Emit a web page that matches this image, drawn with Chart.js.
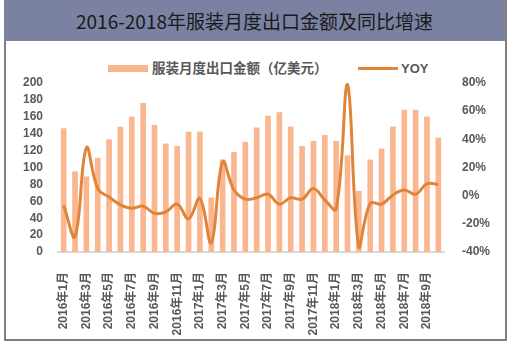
<!DOCTYPE html>
<html>
<head>
<meta charset="utf-8">
<script src="https://cdn.jsdelivr.net/npm/chart.js@4/dist/chart.umd.min.js"></script>
<style>
  html, body { margin: 0; padding: 0; background: #fff; }
  body { width: 508px; height: 344px; position: relative; overflow: hidden; font-family: "Liberation Sans", "Noto Sans CJK SC", sans-serif; }
  #frame { position: absolute; left: 4px; top: 0; width: 499px; height: 339px; border: 2px solid #808080; border-top: none; }
  #title { position: absolute; left: 4px; top: 0; width: 501px; height: 41px; background: #7b81a1; color: #1a1a1a;
           font: 19px "Noto Sans CJK SC", sans-serif; text-align: center; line-height: 41px; }
  #legend { position: absolute; top: 60px; left: 0; width: 508px; height: 18px; font: bold 13px "Liberation Sans", "Noto Sans CJK SC", sans-serif; color: #595959; }
  .sw { position: absolute; }
  .lt { position: absolute; top: 0; line-height: 18px; }
  #wrap { position: absolute; left: 5px; top: 41px; width: 499px; height: 299px; }
</style>
</head>
<body>
<div id="frame"></div>
<div id="title">2016-2018年服装月度出口金额及同比增速</div>
<div id="legend">
  <div class="sw" style="left:108px;top:5px;width:40px;height:7px;background:#f9b68f"></div>
  <div class="lt" id="lg1" style="left:152px;font-size:13.5px"></div>
  <div class="sw" style="left:358px;top:7px;width:40px;height:3px;background:#e0843a"></div>
  <div class="lt" id="lg2" style="left:401px"></div>
</div>
<div id="wrap"><canvas id="myChart" width="499" height="299"></canvas></div>
<script>
const months = [
  '2016年1月','2016年2月','2016年3月','2016年4月','2016年5月','2016年6月','2016年7月','2016年8月','2016年9月','2016年10月','2016年11月','2016年12月',
  '2017年1月','2017年2月','2017年3月','2017年4月','2017年5月','2017年6月','2017年7月','2017年8月','2017年9月','2017年10月','2017年11月','2017年12月',
  '2018年1月','2018年2月','2018年3月','2018年4月','2018年5月','2018年6月','2018年7月','2018年8月','2018年9月','2018年10月'
];
// 服装月度出口金额 (亿美元)
const exportValues = [146, 95, 89, 111, 133, 148, 160, 176, 150, 128, 125, 142,
                      142, 64, 109, 118, 130, 147, 161, 165, 148, 125, 131, 138,
                      131, 114, 72, 109, 122, 148, 168, 168, 160, 135];
// YOY (%)
const yoyValues = [-7, -29, 34, 5, -1, -6.5, -9, -7.5, -12.5, -11.5, -6, -16.5,
                   -2, -33.5, 24, 4, -2.5, -1.5, 1, -6, -1.5, -2.5, 5, -3,
                   -9.5, 79, -36.5, -5.5, -6, 0.5, 4, 1, 8.5, 8];
const seriesNames = ['服装月度出口金额（亿美元）', 'YOY'];

document.getElementById('lg1').textContent = seriesNames[0];
document.getElementById('lg2').textContent = seriesNames[1];

const tickFont = { family: '"Liberation Sans", "Noto Sans CJK SC", sans-serif', size: 12, weight: 'bold' };

const data = {
  labels: months,
  datasets: [
    {
      type: 'line',
      label: seriesNames[1],
      data: yoyValues,
      yAxisID: 'y1',
      borderColor: '#e0843a',
      borderWidth: 3,
      pointRadius: 0,
      tension: 0.4,
      order: 0
    },
    {
      type: 'bar',
      label: seriesNames[0],
      data: exportValues,
      yAxisID: 'y',
      backgroundColor: '#f9b68f',
      barThickness: 5,
      order: 1
    }
  ]
};

const config = {
  data: data,
  options: {
    responsive: false,
    animation: false,
    layout: { padding: { top: 42, bottom: 0, left: 0, right: 0 } },
    plugins: { legend: { display: false }, title: { display: false }, tooltip: { enabled: false } },
    scales: {
      x: {
        grid: { display: false },
        border: { display: true, color: '#d9d9d9', width: 2 },
        ticks: {
          autoSkip: false, minRotation: 90, maxRotation: 90, padding: 12,
          color: '#595959', font: tickFont,
          callback: function (v, i) { return i % 2 === 0 ? this.getLabelForValue(v) : ''; }
        },
        afterFit: function (s) { s.height = 88; }
      },
      y: {
        position: 'left', min: 0, max: 200,
        grid: { display: false, drawTicks: false },
        border: { display: false },
        ticks: { stepSize: 20, autoSkip: false, padding: 15, color: '#595959', font: tickFont },
        afterFit: function (s) { s.width = 53; }
      },
      y1: {
        position: 'right', min: -40, max: 80,
        grid: { display: false, drawTicks: false },
        border: { display: false },
        ticks: { stepSize: 20, autoSkip: false, padding: 18, color: '#595959', font: tickFont,
                 callback: function (v) { return v + '%'; } },
        afterFit: function (s) { s.width = 60; }
      }
    }
  }
};

const ctx = document.getElementById('myChart').getContext('2d');
const myChart = new Chart(ctx, config);
</script>
</body>
</html>
